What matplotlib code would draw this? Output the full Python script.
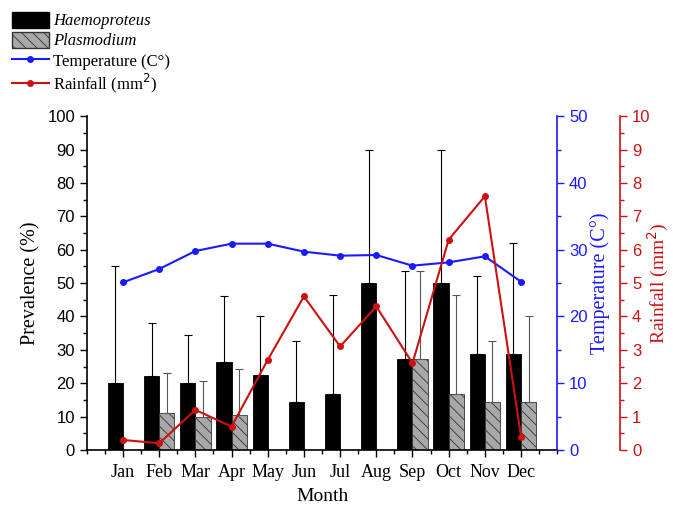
import numpy as np
import matplotlib
matplotlib.use('Agg')
import matplotlib.pyplot as plt
from matplotlib.ticker import MultipleLocator
from matplotlib.patches import Patch
from matplotlib.lines import Line2D

months = ['Jan', 'Feb', 'Mar', 'Apr', 'May', 'Jun', 'Jul', 'Aug', 'Sep', 'Oct', 'Nov', 'Dec']
haemo = [20, 22.2, 20, 26.3, 22.6, 14.3, 16.7, 50, 27.3, 50, 28.6, 28.6]
haemo_top = [55, 38, 34.3, 46, 40.2, 32.6, 46.5, 90, 53.6, 90, 52, 62]
plasmo = [0, 11, 10, 10.5, 0, 0, 0, 0, 27.3, 16.7, 14.3, 14.3]
plasmo_top = [0, 23, 20.7, 24.3, 0, 0, 0, 0, 53.6, 46.5, 32.5, 40.2]
temperature = [25.1, 27.1, 29.8, 30.9, 30.9, 29.7, 29.1, 29.2, 27.6, 28.1, 29.0, 25.2]
rainfall = [0.3, 0.2, 1.2, 0.7, 2.7, 4.6, 3.1, 4.3, 2.6, 6.3, 7.6, 0.4]

serif = 'Liberation Serif'
sans = 'Liberation Sans'

fig = plt.figure(figsize=(6.73, 5.05), dpi=100)
ax = fig.add_axes([0.129, 0.109, 0.699, 0.661])

x = np.arange(1, 13)
w = 0.42
h_err = np.array(haemo_top) - np.array(haemo)
p_err = np.array(plasmo_top) - np.array(plasmo)
h_err_low = np.zeros(12)

ax.bar(x - w / 2, haemo, w, color='black', edgecolor='black', linewidth=0.6, zorder=2)
ax.errorbar(x - w / 2, haemo, yerr=[h_err_low, h_err], fmt='none', ecolor='black',
            elinewidth=0.8, capsize=3, capthick=0.8, zorder=3)

mask = np.array(plasmo) > 0
plt.rcParams['hatch.linewidth'] = 0.6
ax.bar(x[mask] + w / 2, np.array(plasmo)[mask], w, color='#a8a8a8', edgecolor='#333333',
       linewidth=0.6, hatch='\\\\\\', zorder=2)
ax.errorbar(x[mask] + w / 2, np.array(plasmo)[mask], yerr=[np.zeros(mask.sum()), p_err[mask]],
            fmt='none', ecolor='#555555', elinewidth=0.8, capsize=3, capthick=0.8, zorder=3)

ax.set_xlim(0, 13)
ax.set_ylim(0, 100)
ax.set_xticks(x)
ax.set_xticklabels(months, fontfamily=serif, fontsize=13)
ax.xaxis.set_minor_locator(MultipleLocator(0.5))
ax.yaxis.set_major_locator(MultipleLocator(10))
ax.yaxis.set_minor_locator(MultipleLocator(5))
ax.tick_params(axis='y', labelsize=12, direction='out', length=5, width=1)
ax.tick_params(axis='x', direction='out', length=5, width=1, pad=5)
ax.tick_params(which='minor', length=3, width=1)
for lab in ax.get_yticklabels():
    lab.set_fontfamily(sans)
ax.spines['top'].set_visible(False)
ax.spines['right'].set_visible(False)
ax.spines['left'].set_linewidth(1.2)
ax.spines['bottom'].set_linewidth(1.2)
ax.set_ylabel('Prevalence (%)', fontfamily=serif, fontsize=14.5, labelpad=5)
ax.set_xlabel('Month', fontfamily=serif, fontsize=14, labelpad=5)

# temperature axis
ax2 = ax.twinx()
ax2.plot(x, temperature, color='#1a1aff', marker='o', markersize=4, linewidth=1.5, zorder=4)
ax2.set_ylim(0, 50)
ax2.yaxis.set_major_locator(MultipleLocator(10))
ax2.yaxis.set_minor_locator(MultipleLocator(5))
for s in ['top', 'left', 'bottom']:
    ax2.spines[s].set_visible(False)
ax2.spines['right'].set_color('#1a1aff')
ax2.spines['right'].set_linewidth(1.2)
ax2.tick_params(axis='y', colors='#1a1aff', labelsize=12, length=5, width=1)
ax2.tick_params(axis='y', which='minor', length=3, width=1, colors='#1a1aff')
for lab in ax2.get_yticklabels():
    lab.set_fontfamily(sans)
ax2.set_ylabel('Temperature (C°)', color='#1a1aff', fontfamily=serif, fontsize=14.5, labelpad=2)

# rainfall axis
ax3 = ax.twinx()
ax3.spines['right'].set_position(('axes', 1 + 63 / 470))
ax3.plot(x, rainfall, color='#cc1111', marker='o', markersize=4, linewidth=1.5, zorder=5)
ax3.set_ylim(0, 10)
ax3.yaxis.set_major_locator(MultipleLocator(1))
ax3.yaxis.set_minor_locator(MultipleLocator(0.5))
for s in ['top', 'left', 'bottom']:
    ax3.spines[s].set_visible(False)
ax3.spines['right'].set_color('#cc1111')
ax3.spines['right'].set_linewidth(1.2)
ax3.tick_params(axis='y', colors='#cc1111', labelsize=12, length=5, width=1)
ax3.tick_params(axis='y', which='minor', length=3, width=1, colors='#cc1111')
for lab in ax3.get_yticklabels():
    lab.set_fontfamily(sans)
ax3.set_ylabel('Rainfall (mm$^2$)', color='#cc1111', fontfamily=serif, fontsize=14, labelpad=-3)

handles = [
    Patch(facecolor='black', edgecolor='black'),
    Patch(facecolor='#a8a8a8', edgecolor='#333333', hatch='\\\\\\'),
    Line2D([0], [0], color='#1a1aff', marker='o', markersize=4, linewidth=1.5),
    Line2D([0], [0], color='#cc1111', marker='o', markersize=4, linewidth=1.5),
]
labels = ['Haemoproteus', 'Plasmodium', 'Temperature (C°)', 'Rainfall (mm$^2$)']
leg = fig.legend(handles, labels, loc='upper left', bbox_to_anchor=(0.003, 0.997),
                 frameon=False, prop={'family': serif, 'size': 12},
                 handlelength=2.2, handleheight=1.1, handletextpad=0.25,
                 labelspacing=0.15, borderaxespad=0.2)
for t in leg.get_texts()[:2]:
    t.set_fontstyle('italic')

fig.savefig('out.png', dpi=100)
